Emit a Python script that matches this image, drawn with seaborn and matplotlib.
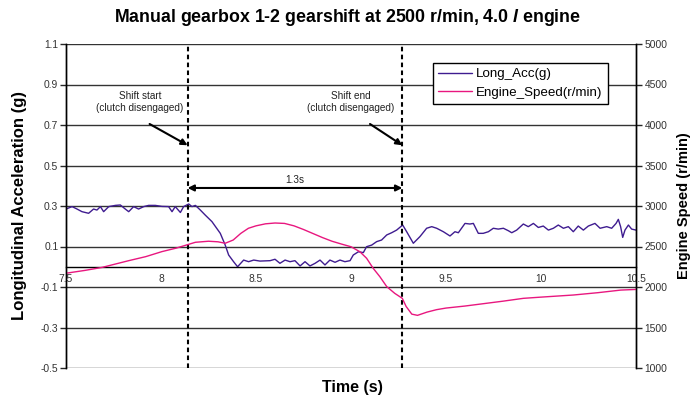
import matplotlib
matplotlib.use("Agg")
import matplotlib.pyplot as plt
from matplotlib import font_manager
import numpy as np
import pandas as pd
import seaborn as sns

# longitudinal acceleration (g)
acc_time = [7.5, 7.532, 7.558, 7.584, 7.619, 7.645, 7.663, 7.681, 7.698, 7.725, 7.76, 7.786,
            7.812, 7.83, 7.856, 7.882, 7.909, 7.935, 7.97, 8.005, 8.04, 8.058, 8.075, 8.102,
            8.119, 8.146, 8.163, 8.181, 8.207, 8.233, 8.268, 8.312, 8.338, 8.356, 8.382, 8.403,
            8.435, 8.461, 8.488, 8.521, 8.574, 8.6, 8.626, 8.653, 8.679, 8.705, 8.732, 8.758,
            8.784, 8.811, 8.837, 8.863, 8.889, 8.916, 8.942, 8.968, 8.995, 9.012, 9.039, 9.065,
            9.082, 9.109, 9.135, 9.161, 9.188, 9.214, 9.24, 9.272, 9.293, 9.328, 9.363, 9.398,
            9.425, 9.451, 9.486, 9.521, 9.547, 9.565, 9.6, 9.626, 9.644, 9.67, 9.696, 9.723,
            9.749, 9.775, 9.802, 9.828, 9.846, 9.872, 9.907, 9.933, 9.96, 9.986, 10.012, 10.039,
            10.065, 10.091, 10.118, 10.144, 10.17, 10.196, 10.223, 10.249, 10.284, 10.311, 10.346,
            10.372, 10.395, 10.407, 10.419, 10.43, 10.442, 10.46, 10.477, 10.5]
acc_g = [0.285, 0.297, 0.285, 0.272, 0.264, 0.285, 0.28, 0.297, 0.272, 0.297, 0.303, 0.305,
         0.285, 0.272, 0.297, 0.285, 0.297, 0.303, 0.303, 0.298, 0.297, 0.272, 0.297, 0.268,
         0.297, 0.31, 0.297, 0.303, 0.28, 0.255, 0.223, 0.165, 0.107, 0.058, 0.025, 0.0,
         0.033, 0.025, 0.033, 0.028, 0.03, 0.037, 0.017, 0.033, 0.025, 0.03, 0.004, 0.025,
         0.004, 0.017, 0.033, 0.009, 0.033, 0.022, 0.033, 0.025, 0.03, 0.058, 0.074, 0.07,
         0.099, 0.107, 0.124, 0.132, 0.157, 0.168, 0.181, 0.206, 0.173, 0.116, 0.149, 0.19,
         0.198, 0.19, 0.173, 0.152, 0.173, 0.168, 0.214, 0.211, 0.214, 0.165, 0.165, 0.173,
         0.19, 0.186, 0.19, 0.178, 0.168, 0.181, 0.211, 0.198, 0.214, 0.194, 0.201, 0.181,
         0.19, 0.206, 0.19, 0.198, 0.173, 0.201, 0.181, 0.201, 0.214, 0.19, 0.198,
         0.19, 0.214, 0.234, 0.198, 0.145, 0.181, 0.206, 0.186, 0.181]

# engine speed (r/min)
rpm_time = [7.5, 7.6, 7.69, 7.83, 7.92, 8.005, 8.08, 8.146, 8.181, 8.25, 8.3, 8.338, 8.38,
            8.42, 8.46, 8.5, 8.55, 8.6, 8.65, 8.7, 8.75, 8.8, 8.85, 8.9, 8.95, 9.0, 9.047,
            9.082, 9.117, 9.152, 9.188, 9.23, 9.27, 9.29, 9.32, 9.35, 9.4, 9.45, 9.5, 9.6,
            9.7, 9.8, 9.907, 10.0, 10.17, 10.3, 10.42, 10.5]
rpm = [2170, 2205, 2242, 2325, 2375, 2437, 2480, 2527, 2552, 2565, 2558, 2540, 2580,
       2662, 2725, 2755, 2780, 2790, 2785, 2755, 2710, 2660, 2610, 2565, 2530, 2497, 2435,
       2355, 2230, 2127, 2005, 1922, 1860, 1760, 1665, 1650, 1690, 1720, 1740, 1765,
       1795, 1825, 1860, 1875, 1901, 1930, 1962, 1970]

x_ticks = [7.5, 8, 8.5, 9, 9.5, 10, 10.5]
x_labels = ["7.5", "8", "8.5", "9", "9.5", "10", "10.5"]
g_ticks = [1.1, 0.9, 0.7, 0.5, 0.3, 0.1, -0.1, -0.3, -0.5]
rpm_ticks = [1000, 1500, 2000, 2500, 3000, 3500, 4000, 4500, 5000]
shift_start, shift_end = 8.14, 9.27

acc_df = pd.DataFrame({"t": acc_time, "g": acc_g})
rpm_df = pd.DataFrame({"t": rpm_time, "rpm": rpm})

sns.set_style("white")
names = {f.name for f in font_manager.fontManager.ttflist}
base = "Liberation Sans" if "Liberation Sans" in names else "DejaVu Sans"
narrow = base
for cand in ["Liberation Sans Narrow", "DejaVu Sans Condensed"]:
    if cand in names:
        narrow = cand
        break
plt.rcParams["font.family"] = [base, "DejaVu Sans"]
plt.rcParams["text.color"] = "black"
plt.rcParams["axes.labelcolor"] = "black"
plt.rcParams["mathtext.fontset"] = "custom"
plt.rcParams["mathtext.it"] = narrow + ":italic:bold"
plt.rcParams["mathtext.rm"] = narrow + ":bold"

acc_col = "#3f1c90"
rpm_col = "#e8177f"

fig = plt.figure(figsize=(6.96, 3.96), dpi=100)
ax = fig.add_axes([66 / 696, 28 / 396, 570 / 696, 324 / 396])
ax2 = ax.twinx()

sns.lineplot(data=acc_df, x="t", y="g", ax=ax, color=acc_col, lw=1.0, sort=False,
             estimator=None, label="Long_Acc(g)", legend=False)
sns.lineplot(data=rpm_df, x="t", y="rpm", ax=ax2, color=rpm_col, lw=1.0, sort=False,
             estimator=None, label="Engine_Speed(r/min)", legend=False)

ax.set_xlim(7.5, 10.5)
ax.set_ylim(-0.5, 1.1)
ax2.set_ylim(1000, 5000)

for gv in g_ticks:
    ax.axhline(gv, color="#333333", lw=1.0, zorder=0)

ax.set_xticks(x_ticks)
ax.set_xticklabels(x_labels)
ax.set_yticks(g_ticks)
ax.set_yticklabels([f"{v:.1f}" for v in g_ticks])
ax2.set_yticks(rpm_ticks)
ax2.set_yticklabels([str(v) for v in rpm_ticks])

for a in (ax, ax2):
    a.spines["top"].set_visible(False)
    for s in a.spines.values():
        s.set_color("black")
        s.set_linewidth(1.0)
ax.spines["bottom"].set_position(("data", 0))
ax2.spines["bottom"].set_visible(False)

ax.tick_params(axis="both", direction="out", length=4, width=1, labelsize=7.4,
               labelcolor="#333333", pad=1.5)
ax.tick_params(axis="x", pad=1)
ax2.tick_params(axis="y", direction="out", length=4, width=1, labelsize=7.4,
                labelcolor="#333333", pad=2)

ax.set_xlabel("Time (s)", fontsize=11.5, fontweight="bold")
ax.xaxis.set_label_coords(0.502, -0.036)
ax.set_ylabel("Longitudinal Acceleration (g)", fontsize=12, fontweight="bold")
ax.yaxis.set_label_coords(-0.068, 0.5)
ax2.set_ylabel("Engine Speed (r/min)", fontsize=10.5, fontweight="bold")
ax2.yaxis.set_label_coords(1.072, 0.5)

for xv in (shift_start, shift_end):
    ax.axvline(xv, color="black", lw=1.5, ls=(0, (2.2, 1.6)), zorder=3)

arrow = dict(arrowstyle="-|>", color="black", lw=1.5, mutation_scale=9, shrinkA=0, shrinkB=0)
ax.annotate("Shift start\n(clutch disengaged)", xy=(shift_start, 0.60), xytext=(7.89, 0.815),
            ha="center", va="center", fontsize=7.2, color="#222222", linespacing=1.25)
ax.annotate("", xy=(shift_start, 0.60), xytext=(7.94, 0.705), arrowprops=arrow)
ax.annotate("Shift end\n(clutch disengaged)", xy=(shift_end, 0.60), xytext=(9.0, 0.815),
            ha="center", va="center", fontsize=7.2, color="#222222", linespacing=1.25)
ax.annotate("", xy=(shift_end, 0.60), xytext=(9.1, 0.705), arrowprops=arrow)

dbl = dict(arrowstyle="<|-|>", color="black", lw=1.5, mutation_scale=9, shrinkA=0, shrinkB=0)
ax.annotate("", xy=(shift_end, 0.389), xytext=(shift_start, 0.389), arrowprops=dbl)
ax.text(8.705, 0.43, "1.3s", ha="center", va="center", fontsize=7.2, color="#222222")

h1, l1 = ax.get_legend_handles_labels()
h2, l2 = ax2.get_legend_handles_labels()
leg = ax2.legend(h1 + h2, l1 + l2, loc="upper left", bbox_to_anchor=(0.644, 0.942),
                 fontsize=9.6, frameon=True, fancybox=False, framealpha=1, edgecolor="black",
                 borderpad=0.4, handlelength=2.5, handletextpad=0.3, labelspacing=0.45,
                 borderaxespad=0)
leg.get_frame().set_linewidth(1.0)

fig.text(0.5, 1 - 17 / 396, r"Manual gearbox 1-2 gearshift at 2500 r/min, 4.0 $\it{l}$ engine",
         ha="center", va="center", fontsize=12.8, fontweight="bold", color="black",
         family=[narrow, "DejaVu Sans"])

fig.savefig("out.png", dpi=100)
